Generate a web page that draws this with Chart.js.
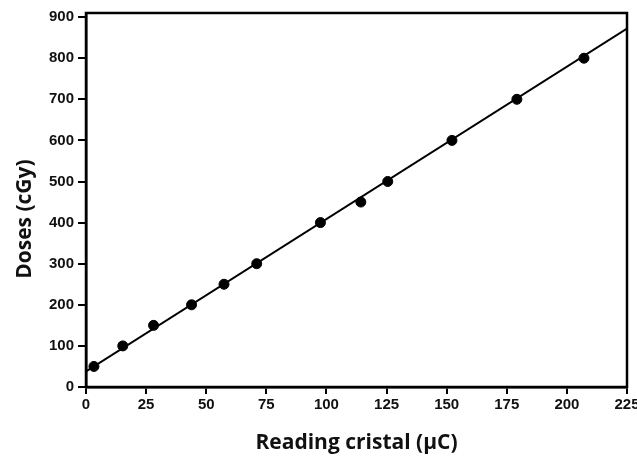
<!DOCTYPE html>
<html>
<head>
<meta charset="utf-8">
<script src="https://cdn.jsdelivr.net/npm/chart.js@4"></script>
<style>
  html, body { margin: 0; padding: 0; background: #fff; }
  #wrap { width: 637px; height: 460px; }
</style>
</head>
<body>
<div id="wrap"><canvas id="doseChart"></canvas></div>
<script>
// readings (µC) and delivered doses (cGy)
const readings = [3.3, 15.3, 28.1, 43.9, 57.4, 71, 97.5, 114.3, 125.5, 152.2, 179.2, 207.1];
const doses = [50, 100, 150, 200, 250, 300, 400, 450, 500, 600, 700, 800];

// fitted line end points
const fitX = [0, 225];
const fitY = [38, 872];

const xTicks = [0, 25, 50, 75, 100, 125, 150, 175, 200, 225];
const yTicks = [0, 100, 200, 300, 400, 500, 600, 700, 800, 900];

const tickFont = { family: "'Liberation Sans Narrow', 'Liberation Sans', Arial, sans-serif", size: 15, weight: 'bold' };
const titleFam = "'Open Sans', 'Noto Sans', sans-serif";

const frame = {
    id: 'frame',
    afterDatasetsDraw(chart) {
        const a = chart.chartArea;
        const c = chart.ctx;
        c.save();
        c.strokeStyle = '#000';
        c.lineWidth = 2.5;
        c.strokeRect(a.left, a.top, a.right - a.left, a.bottom - a.top);
        c.restore();
    }
};

document.addEventListener("DOMContentLoaded", function () {
    const ctx = document.getElementById('doseChart');

    new Chart(ctx, {
        type: 'scatter',
        data: {
            datasets: [{
                label: 'Doses',
                data: readings.map((r, i) => ({ x: r, y: doses[i] })),
                backgroundColor: '#000',
                borderColor: '#000',
                pointRadius: 5,
                pointHoverRadius: 5,
                order: 1
            }, {
                label: 'Fit',
                data: fitX.map((v, i) => ({ x: v, y: fitY[i] })),
                showLine: true,
                borderColor: '#000',
                borderWidth: 2,
                pointRadius: 0,
                order: 2
            }]
        },
        options: {
            responsive: true,
            maintainAspectRatio: false,
            animation: false,
            layout: { padding: { top: 9, right: 7, left: 0, bottom: 0 } },
            plugins: {
                legend: { display: false },
                tooltip: { enabled: false }
            },
            scales: {
                x: {
                    type: 'linear',
                    min: 0,
                    max: 225,
                    afterBuildTicks: s => { s.ticks = xTicks.map(v => ({ value: v })); },
                    afterFit: s => { s.height = 73; s.paddingRight = 10; },
                    grid: { display: true, drawOnChartArea: false, color: '#000', lineWidth: 2, tickLength: 7 },
                    border: { color: '#000', width: 2.5 },
                    ticks: { color: '#111', font: tickFont, padding: 2, maxRotation: 0 },
                    title: { display: true, text: 'Reading cristal (μC)', color: '#111', font: { family: titleFam, size: 21, weight: 'bold' }, padding: { top: 12 } }
                },
                y: {
                    min: 0,
                    max: 910,
                    afterBuildTicks: s => { s.ticks = yTicks.map(v => ({ value: v })); },
                    afterFit: s => { s.width = 86; },
                    grid: { display: true, drawOnChartArea: false, color: '#000', lineWidth: 2, tickLength: 8 },
                    border: { color: '#000', width: 2.5 },
                    ticks: { color: '#111', font: tickFont, padding: 4 },
                    title: { display: true, text: 'Doses (cGy)       ', color: '#111', font: { family: titleFam, size: 21, weight: 'bold' }, padding: { top: 12, bottom: 0 } }
                }
            }
        },
        plugins: [frame]
    });
});
</script>
</body>
</html>
